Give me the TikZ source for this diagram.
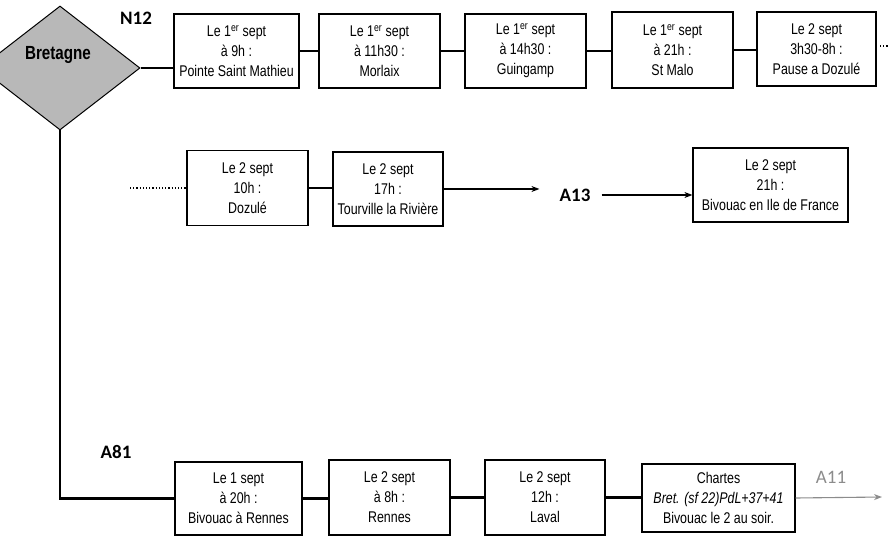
\documentclass[tikz,border=0pt]{standalone}
\usepackage{fontspec}
\setmainfont{Liberation Sans}[FakeStretch=0.8]
\newfontfamily\labfont{Carlito}
\usetikzlibrary{arrows.meta,shapes.geometric}
\begin{document}
\begin{tikzpicture}[x=1pt,y=-1pt,
  stepbox/.style={draw, line width=1.2pt, inner sep=0pt, align=center,
    minimum width=121pt, minimum height=75pt,
    font=\fontsize{15.5}{20}\selectfont},
  link/.style={line width=2.4pt},
  arr/.style={line width=1.1pt, -{Stealth[length=8pt,width=6pt]}},
  lab/.style={font=\labfont\bfseries\fontsize{19}{19}\selectfont, inner sep=0pt},
]
\useasboundingbox (0,0) rectangle (888,537);
\clip (0,0) rectangle (888,537);
\fill[white] (0,0) rectangle (888,537);

% diamond
\node[diamond, draw, line width=1pt, fill=black!28, minimum width=160pt, minimum height=124pt, inner sep=0pt] (bret) at (60,68) {};
\node[font=\bfseries\fontsize{19}{19}\selectfont, inner sep=0pt] (bretlab) at (58,55) {Bretagne};

% labels
\node[lab] (n12) at (136,18) {N12};
\node[lab] (a81) at (116,452) {A81};
\node[lab] (a13) at (575,195) {A13};
\node[font=\labfont\fontsize{19}{19}\selectfont, text=black!45, inner sep=0pt] (a11) at (831,477) {A11};

% row 1
\node[stepbox, minimum width=125pt, minimum height=74pt] (b1) at (236.5,51) {Le 1\textsuperscript{er} sept\\à 9h :\\Pointe Saint Mathieu};
\node[stepbox, minimum height=74pt] (b2) at (379.5,51) {Le 1\textsuperscript{er} sept\\à 11h30 :\\Morlaix};
\node[stepbox, minimum height=74pt] (b3) at (525.5,51) {Le 1\textsuperscript{er} sept\\à 14h30 :\\Guingamp};
\node[stepbox, minimum height=76pt] (b4) at (672.5,50) {Le 1\textsuperscript{er} sept\\à 21h :\\St Malo};
\node[stepbox, minimum width=119pt, minimum height=74pt] (b5) at (816.5,49) {Le 2 sept\\3h30-8h :\\Pause a Dozulé};
\coordinate (r1end) at (890,46);
\coordinate (r1start) at (880,46);

% row 2
\node[stepbox, minimum height=75pt] (dz) at (247.5,188) {Le 2 sept\\10h :\\Dozulé};
\node[stepbox, minimum width=110pt, minimum height=74pt] (tv) at (388,189) {Le 2 sept\\17h :\\Tourville la Rivière};
\node[stepbox, minimum width=155pt, minimum height=74pt] (idf) at (770.5,185) {Le 2 sept\\21h :\\Bivouac en Ile de France};
\coordinate (dotstart) at (130,188);

% row 3
\node[stepbox, minimum width=127pt, minimum height=73pt] (c1) at (238.5,498.5) {Le 1 sept\\à 20h :\\Bivouac à Rennes};
\node[stepbox, minimum height=75pt] (c2) at (389.5,497.5) {Le 2 sept\\à 8h :\\Rennes};
\node[stepbox, minimum width=120pt, minimum height=75pt] (c3) at (545,497.5) {Le 2 sept\\12h :\\Laval};
\node[stepbox, minimum width=153pt, minimum height=68pt] (c4) at (718.5,498) {Chartes\\\itshape Bret. (sf 22)PdL+37+41\\Bivouac le 2 au soir.};
\coordinate (a11end) at (882,497);

% connectors row 1
\draw[link] (bret.east) -- (bret.east -| b1.west);
\draw[link] (b1.east) -- (b1.east -| b2.west);
\draw[link] (b2.east) -- (b2.east -| b3.west);
\draw[link] (b3.east) -- (b3.east -| b4.west);
\draw[link] (b4.east) -- (b4.east -| b5.west);
\draw[line width=1.2pt, dotted] (r1start) -- (r1end);

% connectors row 2
\draw[line width=1.2pt, dotted] (dotstart) -- (dz.west);
\draw[link] (dz.east) -- (dz.east -| tv.west);
\draw[arr, shorten >=20pt] (tv.east) -- (tv.east -| a13.west);
\draw[arr, shorten <=11pt] (a13.east) -- (a13.east -| idf.west);

% connectors row 3
\draw[link] (bret.south) -- (bret.south |- c1.west) -- (c1.west);
\draw[link] (c1.east) -- (c1.east -| c2.west);
\draw[link] (c2.east) -- (c2.east -| c3.west);
\draw[link] (c3.east) -- (c3.east -| c4.west);
\draw[arr, draw=black!45] (c4.east) -- (a11end);
\end{tikzpicture}
\end{document}
